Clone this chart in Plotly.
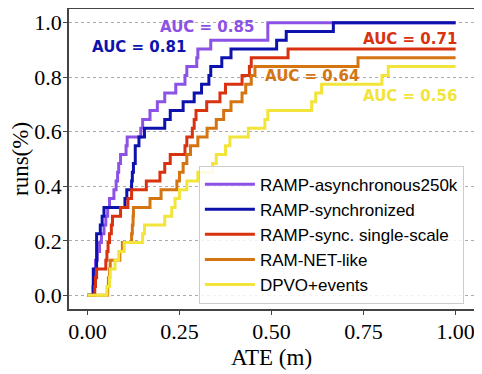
import plotly.graph_objects as go

N_RUNS = 31

# ATE (m) of every successful run, one list per method
ate_async250k = [0.015, 0.017, 0.02, 0.022, 0.027, 0.033, 0.038, 0.045, 0.05, 0.055,
                 0.06, 0.072, 0.078, 0.082, 0.085, 0.09, 0.105, 0.108, 0.145, 0.15,
                 0.17, 0.19, 0.21, 0.24, 0.265, 0.27, 0.297, 0.30, 0.335, 0.49, 0.49]
ate_sync = [0.016, 0.016, 0.016, 0.025, 0.025, 0.025, 0.025, 0.035, 0.04, 0.045,
            0.102, 0.107, 0.12, 0.122, 0.125, 0.13, 0.13, 0.14, 0.155, 0.21,
            0.225, 0.26, 0.29, 0.31, 0.33, 0.335, 0.365, 0.39, 0.514, 0.54, 0.668]
ate_sync_single = [0.02, 0.022, 0.025, 0.05, 0.053, 0.056, 0.06, 0.065, 0.068, 0.09,
                   0.11, 0.12, 0.16, 0.197, 0.21, 0.225, 0.265, 0.27, 0.285, 0.29,
                   0.295, 0.324, 0.36, 0.375, 0.42, 0.44, 0.445, 0.545]
ate_ramnet = [0.055, 0.057, 0.06, 0.062, 0.088, 0.095, 0.12, 0.122, 0.124, 0.125,
              0.17, 0.2, 0.243, 0.25, 0.26, 0.27, 0.28, 0.3, 0.325, 0.35,
              0.37, 0.39, 0.42, 0.43, 0.445, 0.455, 0.735]
ate_dpvo = [0.053, 0.06, 0.062, 0.075, 0.085, 0.1, 0.15, 0.155, 0.21, 0.229,
            0.238, 0.25, 0.27, 0.3, 0.34, 0.35, 0.375, 0.387, 0.437, 0.482,
            0.49, 0.609, 0.62, 0.636, 0.8, 0.817]

names = ["RAMP-asynchronous250k", "RAMP-synchronized", "RAMP-sync. single-scale",
         "RAM-NET-like", "DPVO+events"]
colors = ["#8c52e6", "#0d12ad", "#d9320f", "#d47512", "#f2e43a"]
auc_text = ["AUC = 0.85", "AUC = 0.81", "AUC = 0.71", "AUC = 0.64", "AUC = 0.56"]


def ecdf(ates):
    xs, ys = [0.0], [0.0]
    for i, a in enumerate(sorted(ates), 1):
        xs.append(a)
        ys.append(i / N_RUNS)
    xs.append(1.0)
    ys.append(ys[-1])
    return xs, ys


fig = go.Figure()
for ates, name, col in zip([ate_async250k, ate_sync, ate_sync_single, ate_ramnet, ate_dpvo],
                           names, colors):
    xs, ys = ecdf(ates)
    fig.add_trace(go.Scatter(x=xs, y=ys, mode="lines", name=name,
                             line=dict(color=col, width=3, shape="hv")))

# AUC labels (data coords)
label_pos = [(0.325, 0.983), (0.141, 0.911), (0.876, 0.94), (0.611, 0.805), (0.876, 0.73)]
for txt, (lx, ly), col in zip(auc_text, label_pos, colors):
    fig.add_annotation(x=lx, y=ly, text=txt, showarrow=False, xanchor="center", yanchor="middle",
                       font=dict(family="DejaVu Sans", size=15, color=col, weight="bold"))

# page body has an 8px margin, so the figure is sized to fit the window after it
serif = "Liberation Serif"
fig.update_layout(
    width=474, height=366,
    margin=dict(l=61, r=8, t=1, b=65),
    plot_bgcolor="white", paper_bgcolor="white",
    showlegend=True,
    legend=dict(x=0.975, y=0.018, xanchor="right", yanchor="bottom",
                bgcolor="rgba(255,255,255,0.85)", bordercolor="#cccccc", borderwidth=1,
                font=dict(family="Liberation Sans", size=17, color="black"),
                itemwidth=50, tracegroupgap=0),
)
fig.update_xaxes(range=[-0.05, 1.05], tickvals=[0, 0.25, 0.5, 0.75, 1.0],
                 ticktext=["0.00", "0.25", "0.50", "0.75", "1.00"], automargin=False,
                 showgrid=False, zeroline=False, showline=True, mirror=True,
                 linecolor="#444444", linewidth=1.5, ticks="outside", ticklen=4,
                 tickcolor="#444444", tickfont=dict(family=serif, size=22, color="black"),
                 ticklabelstandoff=-2,
                 title=dict(text="ATE (m)", font=dict(family=serif, size=23, color="black"),
                            standoff=6))
fig.update_yaxes(range=[-0.05, 1.05], tickvals=[0, 0.2, 0.4, 0.6, 0.8, 1.0],
                 ticktext=["0.0", "0.2", "0.4", "0.6", "0.8", "1.0"], automargin=False,
                 showgrid=True, gridcolor="#aaaaaa", griddash="dot", gridwidth=1,
                 zeroline=False, showline=True, mirror=True,
                 linecolor="#444444", linewidth=1.5, ticks="outside", ticklen=4,
                 tickcolor="#444444", tickfont=dict(family=serif, size=22, color="black"),
                 ticklabelstandoff=-3,
                 title=dict(text="runs(%)", font=dict(family=serif, size=23, color="black"),
                            standoff=4))

fig.write_html("out.html")
